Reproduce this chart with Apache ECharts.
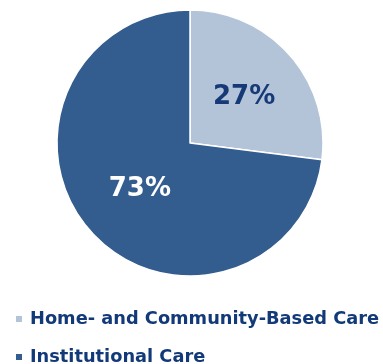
<!DOCTYPE html>
<html><head><meta charset="utf-8">
<script src="https://cdn.jsdelivr.net/npm/echarts@6/dist/echarts.min.js"></script>
<style>html,body{margin:0;padding:0;background:#fff}#c{width:383px;height:364px}</style>
</head><body><div id="c"></div>
<script>
const categories = ["Home- and Community-Based Care", "Institutional Care"];
const values = [27, 73];
const colors = ["#b3c3d8", "#335c8f"];
const labelColors = ["#163a78", "#ffffff"];
const legendTops = [309, 347];

const chart = echarts.init(document.getElementById('c'), null, {renderer: 'canvas'});
chart.setOption({
  animation: false,
  legend: categories.map((c, i) => ({
    orient: 'vertical',
    left: 14,
    top: legendTops[i],
    padding: 0,
    itemWidth: 8,
    itemHeight: 8,
    icon: 'rect',
    textStyle: {color: '#123a78', fontFamily: 'DejaVu Sans', fontWeight: 'bold', fontSize: 17.8, lineHeight: 20, padding: [0,0,0,2]},
    data: [c]
  })),
  series: [{
    type: 'pie',
    center: [190, 143],
    radius: [0, 133],
    startAngle: 90,
    clockwise: true,
    itemStyle: {borderColor: '#fff', borderWidth: 1.5},
    label: {
      position: 'inside',
      formatter: '{c}%',
      fontFamily: 'DejaVu Sans',
      fontWeight: 'bold',
      fontSize: 26,
      padding: [6, 0, 0, 4]
    },
    labelLine: {show: false},
    data: categories.map((n, i) => ({
      name: n, value: values[i],
      itemStyle: {color: colors[i]},
      label: {color: labelColors[i]}
    }))
  }]
});
</script></body></html>
